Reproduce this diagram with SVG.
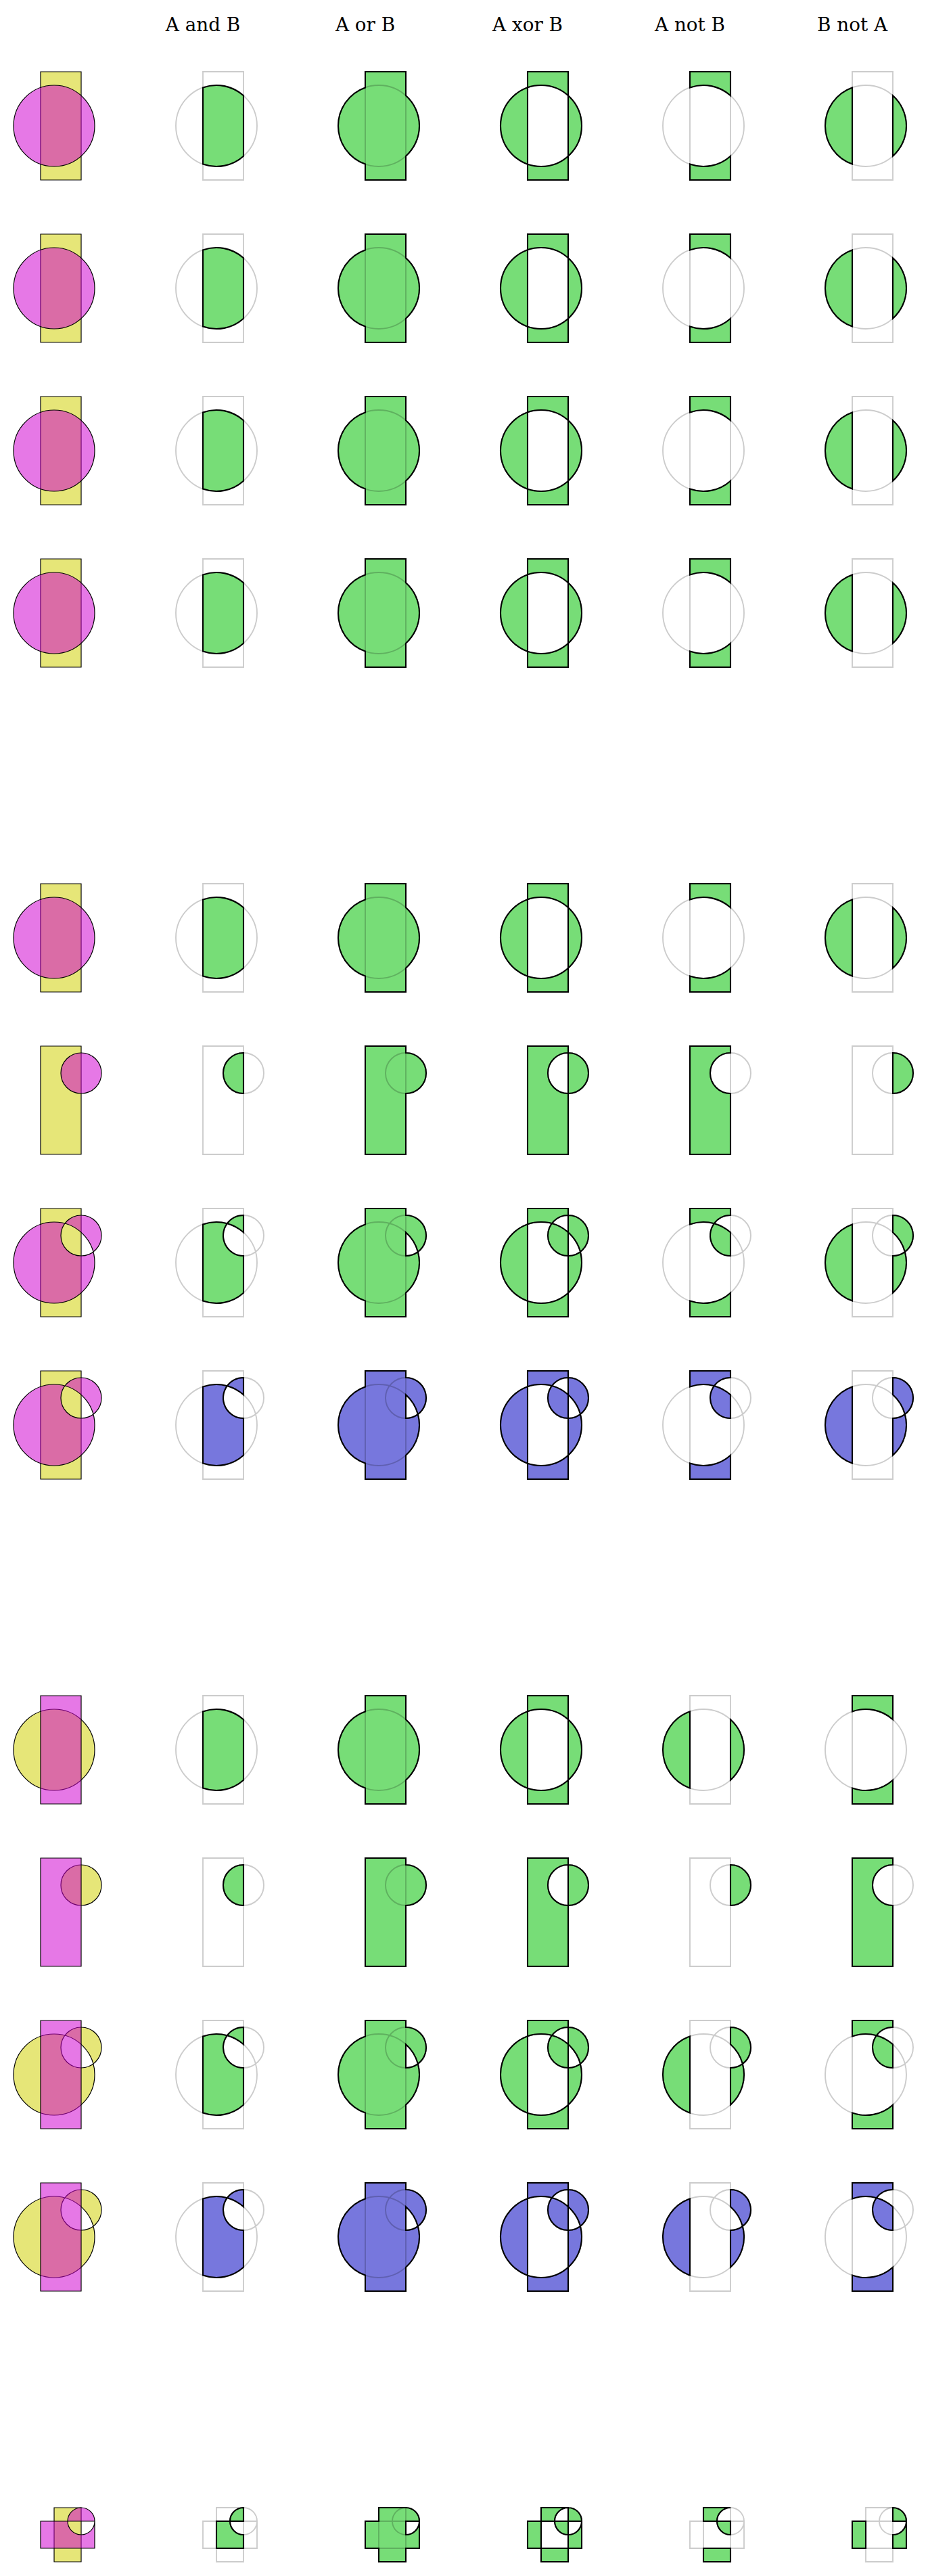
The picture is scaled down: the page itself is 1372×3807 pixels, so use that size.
<svg xmlns="http://www.w3.org/2000/svg" xmlns:xlink="http://www.w3.org/1999/xlink" width="1372" height="3807" viewBox="0 0 1372 3807">
<style>
.in{stroke:#000;stroke-width:1.2;fill-rule:evenodd}
.a{fill:rgb(207,207,0);fill-opacity:0.53}
.b{fill:rgb(207,0,207);fill-opacity:0.53}
.ghost{fill:none;stroke:#000;stroke-opacity:0.2;stroke-width:1.9}
.res{stroke:#000;stroke-width:2.1;fill-rule:evenodd;stroke-linejoin:miter}
.g{fill:#77dd77}
.bl{fill:#7777dd}
.title{font-family:"DejaVu Serif",serif;font-size:27.8px;text-anchor:middle;fill:#000}
</style>
<defs>
<path id="R" d="M60,0H120V160H60Z"/>
<path id="C" d="M20,80A60,60 0 1 1 140,80A60,60 0 1 1 20,80Z"/>
<path id="S" d="M90,40A30,30 0 1 1 150,40A30,30 0 1 1 90,40Z"/>
<path id="K" d="M20,80A60,60 0 1 1 140,80A60,60 0 1 1 20,80Z M90,40A30,30 0 1 1 150,40A30,30 0 1 1 90,40Z"/>
<path id="RC_and" d="M60,23.431A60,60 0 0 1 120,35.279V124.721A60,60 0 0 1 60,136.569Z"/>
<path id="RC_or" d="M60,0H120V35.279A60,60 0 0 1 120,124.721V160H60V136.569A60,60 0 0 1 60,23.431Z"/>
<path id="RC_xor" d="M60,0H120V160H60Z M20,80A60,60 0 1 1 140,80A60,60 0 1 1 20,80Z"/>
<path id="RC_RmC" d="M60,0H120V35.279A60,60 0 0 0 60,23.431Z M60,160H120V124.721A60,60 0 0 1 60,136.569Z"/>
<path id="RC_CmR" d="M60,23.431V136.569A60,60 0 0 1 60,23.431Z M120,35.279A60,60 0 0 1 120,124.721Z"/>
<path id="RS_and" d="M120,10V70A30,30 0 0 1 120,10Z"/>
<path id="RS_or" d="M60,0H120V10A30,30 0 0 1 120,70V160H60Z"/>
<path id="RS_xor" d="M60,0H120V160H60Z M90,40A30,30 0 1 1 150,40A30,30 0 1 1 90,40Z"/>
<path id="RS_RmS" d="M60,0H120V10A30,30 0 0 0 120,70V160H60Z"/>
<path id="RS_SmR" d="M120,10A30,30 0 0 1 120,70Z"/>
<path id="RK_and" d="M60,23.431A60,60 0 0 1 95.893,22.143A30,30 0 0 0 120,70V124.721A60,60 0 0 1 60,136.569Z M95.893,22.143A30,30 0 0 1 120,10V35.279A60,60 0 0 0 95.893,22.143Z"/>
<path id="RK_or" d="M60,0H120V10A30,30 0 0 1 137.857,64.107A60,60 0 0 1 120,124.721V160H60V136.569A60,60 0 0 1 60,23.431Z M120,35.279A60,60 0 0 1 137.857,64.107A30,30 0 0 1 120,70Z"/>
<path id="RK_xor" d="M60,0H120V160H60Z M20,80A60,60 0 1 1 140,80A60,60 0 1 1 20,80Z M90,40A30,30 0 1 1 150,40A30,30 0 1 1 90,40Z"/>
<path id="RK_RmK" d="M60,0H120V10A30,30 0 0 0 95.893,22.143A60,60 0 0 0 60,23.431Z M60,160H120V124.721A60,60 0 0 1 60,136.569Z M95.893,22.143A60,60 0 0 1 120,35.279V70A30,30 0 0 1 95.893,22.143Z"/>
<path id="RK_KmR" d="M60,23.431V136.569A60,60 0 0 1 60,23.431Z M137.857,64.107A60,60 0 0 1 120,124.721V70A30,30 0 0 0 137.857,64.107Z M120,10A30,30 0 0 1 137.857,64.107A60,60 0 0 0 120,35.279Z"/>
<path id="Y" d="M80,0H120V80H80Z"/>
<path id="HO" d="M60,20H140V60H60Z M100,20A20,20 0 1 1 140,20A20,20 0 1 1 100,20Z"/>
<path id="T_and" d="M120,20H100A20,20 0 0 1 120,0Z M80,20H100A20,20 0 0 0 120,40V60H80Z"/>
<path id="T_or" d="M80,0H120A20,20 0 0 1 140,20V60H120V80H80V60H60V20H80Z M120,20H140A20,20 0 0 1 120,40Z"/>
<path id="T_xor" d="M80,0H120V80H80Z M60,20H140V60H60Z M100,20A20,20 0 1 1 140,20A20,20 0 1 1 100,20Z"/>
<path id="T_AmB" d="M80,0H120A20,20 0 0 0 100,20H80Z M100,20H120V40A20,20 0 0 1 100,20Z M80,60H120V80H80Z"/>
<path id="T_BmA" d="M60,20H80V60H60Z M120,40A20,20 0 0 0 140,20V60H120Z M120,20V0A20,20 0 0 1 140,20Z"/>
</defs>
<g id="titles">
<text class="title" x="300" y="46">A and B</text>
<text class="title" x="540" y="46">A or B</text>
<text class="title" x="780" y="46">A xor B</text>
<text class="title" x="1020" y="46">A not B</text>
<text class="title" x="1260" y="46">B not A</text>
</g>

<!-- Row 0 -->
<g id="row0-input" transform="translate(0,106)"><use href="#R" class="in a"/><use href="#C" class="in b"/></g>
<g id="row0-and" transform="translate(240,106)"><use href="#RC_and" class="res g"/><use href="#R" class="ghost"/><use href="#C" class="ghost"/></g>
<g id="row0-or" transform="translate(480,106)"><use href="#RC_or" class="res g"/><use href="#R" class="ghost"/><use href="#C" class="ghost"/></g>
<g id="row0-xor" transform="translate(720,106)"><use href="#RC_xor" class="res g"/><use href="#R" class="ghost"/><use href="#C" class="ghost"/></g>
<g id="row0-anotb" transform="translate(960,106)"><use href="#RC_RmC" class="res g"/><use href="#R" class="ghost"/><use href="#C" class="ghost"/></g>
<g id="row0-bnota" transform="translate(1200,106)"><use href="#RC_CmR" class="res g"/><use href="#R" class="ghost"/><use href="#C" class="ghost"/></g>

<!-- Row 1 -->
<g id="row1-input" transform="translate(0,346)"><use href="#R" class="in a"/><use href="#C" class="in b"/></g>
<g id="row1-and" transform="translate(240,346)"><use href="#RC_and" class="res g"/><use href="#R" class="ghost"/><use href="#C" class="ghost"/></g>
<g id="row1-or" transform="translate(480,346)"><use href="#RC_or" class="res g"/><use href="#R" class="ghost"/><use href="#C" class="ghost"/></g>
<g id="row1-xor" transform="translate(720,346)"><use href="#RC_xor" class="res g"/><use href="#R" class="ghost"/><use href="#C" class="ghost"/></g>
<g id="row1-anotb" transform="translate(960,346)"><use href="#RC_RmC" class="res g"/><use href="#R" class="ghost"/><use href="#C" class="ghost"/></g>
<g id="row1-bnota" transform="translate(1200,346)"><use href="#RC_CmR" class="res g"/><use href="#R" class="ghost"/><use href="#C" class="ghost"/></g>

<!-- Row 2 -->
<g id="row2-input" transform="translate(0,586)"><use href="#R" class="in a"/><use href="#C" class="in b"/></g>
<g id="row2-and" transform="translate(240,586)"><use href="#RC_and" class="res g"/><use href="#R" class="ghost"/><use href="#C" class="ghost"/></g>
<g id="row2-or" transform="translate(480,586)"><use href="#RC_or" class="res g"/><use href="#R" class="ghost"/><use href="#C" class="ghost"/></g>
<g id="row2-xor" transform="translate(720,586)"><use href="#RC_xor" class="res g"/><use href="#R" class="ghost"/><use href="#C" class="ghost"/></g>
<g id="row2-anotb" transform="translate(960,586)"><use href="#RC_RmC" class="res g"/><use href="#R" class="ghost"/><use href="#C" class="ghost"/></g>
<g id="row2-bnota" transform="translate(1200,586)"><use href="#RC_CmR" class="res g"/><use href="#R" class="ghost"/><use href="#C" class="ghost"/></g>

<!-- Row 3 -->
<g id="row3-input" transform="translate(0,826)"><use href="#R" class="in a"/><use href="#C" class="in b"/></g>
<g id="row3-and" transform="translate(240,826)"><use href="#RC_and" class="res g"/><use href="#R" class="ghost"/><use href="#C" class="ghost"/></g>
<g id="row3-or" transform="translate(480,826)"><use href="#RC_or" class="res g"/><use href="#R" class="ghost"/><use href="#C" class="ghost"/></g>
<g id="row3-xor" transform="translate(720,826)"><use href="#RC_xor" class="res g"/><use href="#R" class="ghost"/><use href="#C" class="ghost"/></g>
<g id="row3-anotb" transform="translate(960,826)"><use href="#RC_RmC" class="res g"/><use href="#R" class="ghost"/><use href="#C" class="ghost"/></g>
<g id="row3-bnota" transform="translate(1200,826)"><use href="#RC_CmR" class="res g"/><use href="#R" class="ghost"/><use href="#C" class="ghost"/></g>

<!-- Row 5 -->
<g id="row5-input" transform="translate(0,1306)"><use href="#R" class="in a"/><use href="#C" class="in b"/></g>
<g id="row5-and" transform="translate(240,1306)"><use href="#RC_and" class="res g"/><use href="#R" class="ghost"/><use href="#C" class="ghost"/></g>
<g id="row5-or" transform="translate(480,1306)"><use href="#RC_or" class="res g"/><use href="#R" class="ghost"/><use href="#C" class="ghost"/></g>
<g id="row5-xor" transform="translate(720,1306)"><use href="#RC_xor" class="res g"/><use href="#R" class="ghost"/><use href="#C" class="ghost"/></g>
<g id="row5-anotb" transform="translate(960,1306)"><use href="#RC_RmC" class="res g"/><use href="#R" class="ghost"/><use href="#C" class="ghost"/></g>
<g id="row5-bnota" transform="translate(1200,1306)"><use href="#RC_CmR" class="res g"/><use href="#R" class="ghost"/><use href="#C" class="ghost"/></g>

<!-- Row 6 -->
<g id="row6-input" transform="translate(0,1546)"><use href="#R" class="in a"/><use href="#S" class="in b"/></g>
<g id="row6-and" transform="translate(240,1546)"><use href="#RS_and" class="res g"/><use href="#R" class="ghost"/><use href="#S" class="ghost"/></g>
<g id="row6-or" transform="translate(480,1546)"><use href="#RS_or" class="res g"/><use href="#R" class="ghost"/><use href="#S" class="ghost"/></g>
<g id="row6-xor" transform="translate(720,1546)"><use href="#RS_xor" class="res g"/><use href="#R" class="ghost"/><use href="#S" class="ghost"/></g>
<g id="row6-anotb" transform="translate(960,1546)"><use href="#RS_RmS" class="res g"/><use href="#R" class="ghost"/><use href="#S" class="ghost"/></g>
<g id="row6-bnota" transform="translate(1200,1546)"><use href="#RS_SmR" class="res g"/><use href="#R" class="ghost"/><use href="#S" class="ghost"/></g>

<!-- Row 7 -->
<g id="row7-input" transform="translate(0,1786)"><use href="#R" class="in a"/><use href="#K" class="in b"/></g>
<g id="row7-and" transform="translate(240,1786)"><use href="#RK_and" class="res g"/><use href="#R" class="ghost"/><use href="#K" class="ghost"/></g>
<g id="row7-or" transform="translate(480,1786)"><use href="#RK_or" class="res g"/><use href="#R" class="ghost"/><use href="#K" class="ghost"/></g>
<g id="row7-xor" transform="translate(720,1786)"><use href="#RK_xor" class="res g"/><use href="#R" class="ghost"/><use href="#K" class="ghost"/></g>
<g id="row7-anotb" transform="translate(960,1786)"><use href="#RK_RmK" class="res g"/><use href="#R" class="ghost"/><use href="#K" class="ghost"/></g>
<g id="row7-bnota" transform="translate(1200,1786)"><use href="#RK_KmR" class="res g"/><use href="#R" class="ghost"/><use href="#K" class="ghost"/></g>

<!-- Row 8 -->
<g id="row8-input" transform="translate(0,2026)"><use href="#R" class="in a"/><use href="#K" class="in b"/></g>
<g id="row8-and" transform="translate(240,2026)"><use href="#RK_and" class="res bl"/><use href="#R" class="ghost"/><use href="#K" class="ghost"/></g>
<g id="row8-or" transform="translate(480,2026)"><use href="#RK_or" class="res bl"/><use href="#R" class="ghost"/><use href="#K" class="ghost"/></g>
<g id="row8-xor" transform="translate(720,2026)"><use href="#RK_xor" class="res bl"/><use href="#R" class="ghost"/><use href="#K" class="ghost"/></g>
<g id="row8-anotb" transform="translate(960,2026)"><use href="#RK_RmK" class="res bl"/><use href="#R" class="ghost"/><use href="#K" class="ghost"/></g>
<g id="row8-bnota" transform="translate(1200,2026)"><use href="#RK_KmR" class="res bl"/><use href="#R" class="ghost"/><use href="#K" class="ghost"/></g>

<!-- Row 10 -->
<g id="row10-input" transform="translate(0,2506)"><use href="#C" class="in a"/><use href="#R" class="in b"/></g>
<g id="row10-and" transform="translate(240,2506)"><use href="#RC_and" class="res g"/><use href="#C" class="ghost"/><use href="#R" class="ghost"/></g>
<g id="row10-or" transform="translate(480,2506)"><use href="#RC_or" class="res g"/><use href="#C" class="ghost"/><use href="#R" class="ghost"/></g>
<g id="row10-xor" transform="translate(720,2506)"><use href="#RC_xor" class="res g"/><use href="#C" class="ghost"/><use href="#R" class="ghost"/></g>
<g id="row10-anotb" transform="translate(960,2506)"><use href="#RC_CmR" class="res g"/><use href="#C" class="ghost"/><use href="#R" class="ghost"/></g>
<g id="row10-bnota" transform="translate(1200,2506)"><use href="#RC_RmC" class="res g"/><use href="#C" class="ghost"/><use href="#R" class="ghost"/></g>

<!-- Row 11 -->
<g id="row11-input" transform="translate(0,2746)"><use href="#S" class="in a"/><use href="#R" class="in b"/></g>
<g id="row11-and" transform="translate(240,2746)"><use href="#RS_and" class="res g"/><use href="#S" class="ghost"/><use href="#R" class="ghost"/></g>
<g id="row11-or" transform="translate(480,2746)"><use href="#RS_or" class="res g"/><use href="#S" class="ghost"/><use href="#R" class="ghost"/></g>
<g id="row11-xor" transform="translate(720,2746)"><use href="#RS_xor" class="res g"/><use href="#S" class="ghost"/><use href="#R" class="ghost"/></g>
<g id="row11-anotb" transform="translate(960,2746)"><use href="#RS_SmR" class="res g"/><use href="#S" class="ghost"/><use href="#R" class="ghost"/></g>
<g id="row11-bnota" transform="translate(1200,2746)"><use href="#RS_RmS" class="res g"/><use href="#S" class="ghost"/><use href="#R" class="ghost"/></g>

<!-- Row 12 -->
<g id="row12-input" transform="translate(0,2986)"><use href="#K" class="in a"/><use href="#R" class="in b"/></g>
<g id="row12-and" transform="translate(240,2986)"><use href="#RK_and" class="res g"/><use href="#K" class="ghost"/><use href="#R" class="ghost"/></g>
<g id="row12-or" transform="translate(480,2986)"><use href="#RK_or" class="res g"/><use href="#K" class="ghost"/><use href="#R" class="ghost"/></g>
<g id="row12-xor" transform="translate(720,2986)"><use href="#RK_xor" class="res g"/><use href="#K" class="ghost"/><use href="#R" class="ghost"/></g>
<g id="row12-anotb" transform="translate(960,2986)"><use href="#RK_KmR" class="res g"/><use href="#K" class="ghost"/><use href="#R" class="ghost"/></g>
<g id="row12-bnota" transform="translate(1200,2986)"><use href="#RK_RmK" class="res g"/><use href="#K" class="ghost"/><use href="#R" class="ghost"/></g>

<!-- Row 13 -->
<g id="row13-input" transform="translate(0,3226)"><use href="#K" class="in a"/><use href="#R" class="in b"/></g>
<g id="row13-and" transform="translate(240,3226)"><use href="#RK_and" class="res bl"/><use href="#K" class="ghost"/><use href="#R" class="ghost"/></g>
<g id="row13-or" transform="translate(480,3226)"><use href="#RK_or" class="res bl"/><use href="#K" class="ghost"/><use href="#R" class="ghost"/></g>
<g id="row13-xor" transform="translate(720,3226)"><use href="#RK_xor" class="res bl"/><use href="#K" class="ghost"/><use href="#R" class="ghost"/></g>
<g id="row13-anotb" transform="translate(960,3226)"><use href="#RK_KmR" class="res bl"/><use href="#K" class="ghost"/><use href="#R" class="ghost"/></g>
<g id="row13-bnota" transform="translate(1200,3226)"><use href="#RK_RmK" class="res bl"/><use href="#K" class="ghost"/><use href="#R" class="ghost"/></g>

<!-- Row 15 -->
<g id="row15-input" transform="translate(0,3706)"><use href="#Y" class="in a"/><use href="#HO" class="in b"/></g>
<g id="row15-and" transform="translate(240,3706)"><use href="#T_and" class="res g"/><use href="#Y" class="ghost"/><use href="#HO" class="ghost"/></g>
<g id="row15-or" transform="translate(480,3706)"><use href="#T_or" class="res g"/><use href="#Y" class="ghost"/><use href="#HO" class="ghost"/></g>
<g id="row15-xor" transform="translate(720,3706)"><use href="#T_xor" class="res g"/><use href="#Y" class="ghost"/><use href="#HO" class="ghost"/></g>
<g id="row15-anotb" transform="translate(960,3706)"><use href="#T_AmB" class="res g"/><use href="#Y" class="ghost"/><use href="#HO" class="ghost"/></g>
<g id="row15-bnota" transform="translate(1200,3706)"><use href="#T_BmA" class="res g"/><use href="#Y" class="ghost"/><use href="#HO" class="ghost"/></g>
</svg>
